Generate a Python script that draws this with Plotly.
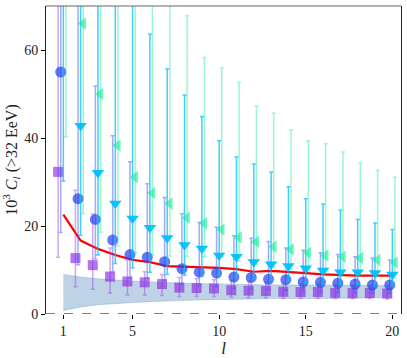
import numpy as np
import plotly.graph_objects as go

ell = np.arange(1, 21)

purple_val = [32.3, 12.7, 11.1, 8.5, 7.4, 7.2, 6.8, 6.0, 5.9, 5.8, 5.4, 5.3, 5.2, 5.05, 5.0, 5.0, 4.8, 4.75, 4.75, 4.65]
purple_lo = [12.9, 6.2, 5.6, 4.7, 4.4, 4.3, 4.2, 4.0, 4.0, 4.0, 3.8, 3.7, 3.7, 3.6, 3.6, 3.6, 3.5, 3.5, 3.5, 3.4]
purple_hi = [80, 28.1, 22.7, 15.0, 12.3, 9.6, 9.0, 8.3, 8.0, 7.8, 7.6, 7.4, 7.2, 7.0, 6.9, 6.8, 6.6, 6.5, 6.4, 6.3]

blue_val = [55.0, 26.2, 21.5, 16.8, 13.5, 12.9, 11.9, 10.3, 9.5, 9.3, 8.4, 8.3, 7.9, 7.8, 7.3, 7.2, 7.0, 6.8, 6.6, 6.6]
blue_lo = [18.5, 11.2, 12.5, 9.6, 8.1, 8.1, 7.6, 6.8, 6.4, 6.2, 5.8, 5.7, 5.5, 5.4, 5.1, 5.0, 4.9, 4.8, 4.7, 4.7]
blue_hi = [120, 90, 51.8, 40.5, 34.6, 29.6, 26.5, 22.8, 20.8, 19.7, 17.8, 17.2, 16.5, 15.0, 14.5, 13.9, 13.5, 13.0, 12.7, 12.3]

cyan_val = [85, 42.8, 32.1, 25.1, 21.7, 19.6, 17.3, 15.7, 14.9, 13.3, 13.0, 11.8, 11.3, 10.9, 10.4, 9.9, 9.5, 9.5, 9.3, 9.0]
cyan_lo = [30.2, 17.9, 13.4, 11.5, 10.5, 9.5, 9.0, 8.8, 8.6, 8.9, 8.5, 8.0, 7.7, 7.5, 7.2, 6.9, 6.7, 6.7, 6.5, 6.4]
cyan_hi = [200, 150, 110, 90, 75, 63.6, 55.7, 49.8, 44.9, 39.4, 35.7, 34.1, 32.3, 28.9, 26.2, 25.0, 23.6, 21.5, 20.7, 19.2]

green_val = [110, 66.0, 50.0, 38.3, 31.1, 27.5, 25.1, 21.9, 20.6, 19.2, 17.4, 16.4, 15.3, 14.7, 13.9, 13.3, 13.0, 12.7, 12.3, 11.7]
green_lo = [40.3, 22.8, 18.6, 15.5, 14.0, 13.4, 13.2, 13.1, 13.0, 13.0, 12.0, 11.3, 10.6, 10.2, 9.7, 9.3, 9.1, 8.9, 8.6, 8.2]
green_hi = [300, 250, 180, 140, 110, 90, 75, 67.8, 58.3, 55.9, 52.6, 47.3, 45.6, 41.9, 39.4, 38.7, 36.8, 34.3, 32.6, 31.1]

red_line = [22.6, 16.7, 14.8, 13.4, 12.3, 11.8, 10.9, 10.8, 10.6, 10.5, 10.2, 9.6, 9.8, 9.6, 9.3, 9.0, 8.8, 8.7, 8.7, 8.7]

band_upper = [9.0, 8.4, 8.0, 7.7, 7.5, 7.3, 7.1, 7.0, 6.9, 6.8, 6.7, 6.7, 6.6, 6.6, 6.6, 6.5, 6.5, 6.5, 6.5, 6.5]
band_lower = [0.8, 1.6, 2.1, 2.4, 2.6, 2.8, 3.0, 3.1, 3.2, 3.3, 3.4, 3.4, 3.5, 3.5, 3.5, 3.6, 3.6, 3.6, 3.7, 3.7]

x_ticks = [1, 5, 10, 15, 20]
y_ticks = [0, 20, 40, 60]

FONT = "Liberation Serif"

fig = go.Figure()

# band
fig.add_trace(go.Scatter(x=ell, y=band_upper, mode="lines",
                         line=dict(color="rgba(70,130,180,0.45)", width=0.6),
                         showlegend=False, hoverinfo="skip"))
fig.add_trace(go.Scatter(x=ell, y=band_lower, mode="lines", fill="tonexty",
                         fillcolor="rgba(70,130,180,0.35)",
                         line=dict(color="rgba(70,130,180,0.45)", width=0.6),
                         showlegend=False, hoverinfo="skip"))

# red line
fig.add_trace(go.Scatter(x=ell, y=red_line, mode="lines",
                         line=dict(color="#ff0000", width=2.2), showlegend=False))


def series(offset, val, lo, hi, symbol, size, mcol, ecol):
    v = np.array(val, float)
    fig.add_trace(go.Scatter(
        x=ell + offset, y=v, mode="markers",
        marker=dict(symbol=symbol, size=size, color=mcol, line=dict(width=0)),
        error_y=dict(type="data", symmetric=False,
                     array=np.array(hi, float) - v,
                     arrayminus=v - np.array(lo, float),
                     color=ecol, thickness=1.5, width=2),
        showlegend=False))


series(-0.30, purple_val, purple_lo, purple_hi, "square", 10,
       "rgba(138,43,226,0.65)", "rgba(160,80,235,0.5)")
series(-0.15, blue_val, blue_lo, blue_hi, "circle", 11,
       "rgba(40,70,235,0.72)", "rgba(70,90,235,0.5)")
series(0.0, cyan_val, cyan_lo, cyan_hi, "triangle-down", 11,
       "rgba(0,191,255,0.95)", "rgba(0,191,255,0.75)")
series(0.15, green_val, green_lo, green_hi, "triangle-left", 11,
       "rgba(0,235,140,0.55)", "rgba(0,235,140,0.4)")

fig.update_layout(
    width=407, height=358,
    margin=dict(l=46, r=6, t=6, b=44),
    paper_bgcolor="white", plot_bgcolor="white",
    font=dict(family=FONT, size=14, color="#222"),
    xaxis=dict(range=[0, 20.5], tickvals=x_ticks, ticktext=[str(t) for t in x_ticks],
               showgrid=False, zeroline=False, showline=False,
               ticks="outside", ticklen=4, tickcolor="black",
               title=dict(text="<i>l</i>", standoff=2, font=dict(size=17))),
    yaxis=dict(range=[0, 70], tickvals=y_ticks, showgrid=False, zeroline=False,
               showline=True, linecolor="#222", linewidth=1, mirror=True,
               ticks="outside", ticklen=4, tickcolor="black",
               title=dict(text="10<sup>3</sup> <i>C<sub>l</sub></i> (&gt;32 EeV)",
                          standoff=5, font=dict(size=16))),
    shapes=[
        dict(type="line", xref="paper", yref="paper", x0=0, x1=1, y0=1, y1=1,
             line=dict(color="#666", width=1.2)),
        dict(type="line", xref="paper", yref="y", x0=0, x1=1, y0=0, y1=0,
             line=dict(color="black", width=1.2, dash="dash")),
    ],
)

fig.write_html("out.html", config={"displayModeBar": False},
               post_script="document.body.style.margin='0';")
